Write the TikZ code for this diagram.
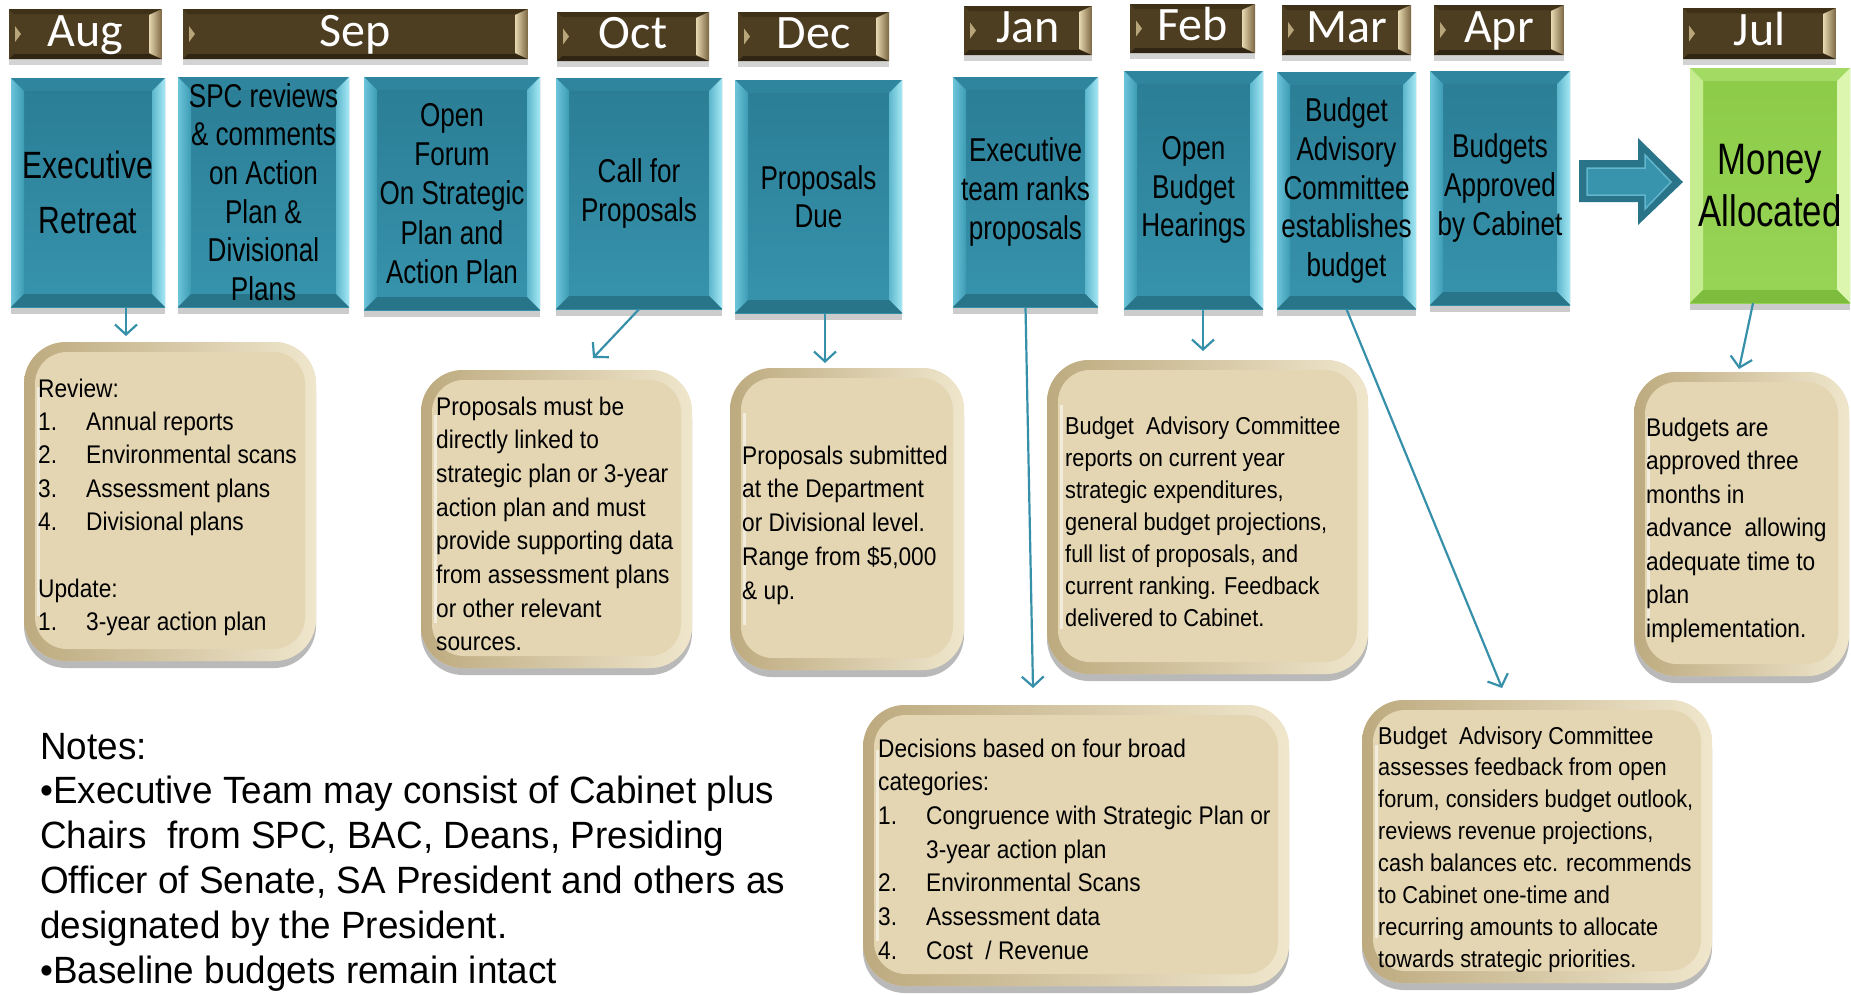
\documentclass[tikz,border=0pt]{standalone}
\usepackage{fontspec}
\setmainfont{Liberation Sans}
\newfontfamily\tealF[FakeStretch=0.79]{Liberation Sans}
\newfontfamily\beigeF[FakeStretch=0.89]{Liberation Sans}
\newfontfamily\notesF[FakeStretch=0.97]{Liberation Sans}
\newfontfamily\monthF{Carlito}
\usetikzlibrary{arrows.meta,shadows}

\definecolor{barface}{HTML}{4D3D21}
\definecolor{bardark}{HTML}{3E3118}
\definecolor{bardarkB}{HTML}{2F2512}
\definecolor{bartanL}{HTML}{E6D8B0}
\definecolor{bartanD}{HTML}{7A6542}
\definecolor{bartan}{HTML}{B9A57A}
\definecolor{tealTop}{HTML}{2A7D95}
\definecolor{tealBot}{HTML}{3793AC}
\definecolor{tbTop}{HTML}{2E859D}
\definecolor{tbLa}{HTML}{6CC4D9}
\definecolor{tbLb}{HTML}{3C9BB4}
\definecolor{tbRa}{HTML}{A6E8F5}
\definecolor{tbRb}{HTML}{5CB6CC}
\definecolor{tbBot}{HTML}{287589}
\definecolor{grTop}{HTML}{8CCB48}
\definecolor{grBot}{HTML}{98D456}
\definecolor{gbTop}{HTML}{A2DA63}
\definecolor{gbL}{HTML}{C6EC90}
\definecolor{gbR}{HTML}{DCF6B0}
\definecolor{gbBot}{HTML}{7EBC3E}
\definecolor{bgRimL}{HTML}{BDAA7F}
\definecolor{bgRimR}{HTML}{EFE6CC}
\definecolor{bgFace}{HTML}{E4D6B3}
\definecolor{connC}{HTML}{3790A9}
\definecolor{arrOut}{HTML}{2A7489}
\definecolor{arrIn}{HTML}{3893AC}
\definecolor{arrLine}{HTML}{62B6CB}

\newcommand\Lt[2]{\vtop{\baselineskip=#1\lineskiplimit=-1000pt\lineskip=0pt\halign{##\hfil\cr#2\crcr}}}
\newcommand\Ct[2]{\vtop{\baselineskip=#1\lineskiplimit=-1000pt\lineskip=0pt\halign{\hfil##\hfil\cr#2\crcr}}}
\newcommand\numit[2]{\hbox to 48pt{#1\hfil}#2}

\newcommand\bevelpic[5]{%
 \path[#2] (path picture bounding box.north west) -- (path picture bounding box.north east) -- ([xshift=-#1,yshift=-#1]path picture bounding box.north east) -- ([xshift=#1,yshift=-#1]path picture bounding box.north west) -- cycle;
 \path[#3] (path picture bounding box.north west) -- ([xshift=#1,yshift=-#1]path picture bounding box.north west) -- ([xshift=#1,yshift=#1]path picture bounding box.south west) -- (path picture bounding box.south west) -- cycle;
 \path[#4] (path picture bounding box.north east) -- ([xshift=-#1,yshift=-#1]path picture bounding box.north east) -- ([xshift=-#1,yshift=#1]path picture bounding box.south east) -- (path picture bounding box.south east) -- cycle;
 \path[#5] (path picture bounding box.south west) -- ([xshift=#1,yshift=#1]path picture bounding box.south west) -- ([xshift=-#1,yshift=#1]path picture bounding box.south east) -- (path picture bounding box.south east) -- cycle;
}
\newcommand\barbevel{%
 \path[fill=bardark] (path picture bounding box.north west) -- (path picture bounding box.north east) -- ([xshift=-13pt,yshift=-5pt]path picture bounding box.north east) -- ([xshift=5pt,yshift=-5pt]path picture bounding box.north west) -- cycle;
 \path[fill=bardarkB] (path picture bounding box.south west) -- (path picture bounding box.south east) -- ([xshift=-13pt,yshift=5pt]path picture bounding box.south east) -- ([xshift=5pt,yshift=5pt]path picture bounding box.south west) -- cycle;
 \path[left color=bartanL, right color=bartanD] (path picture bounding box.north east) -- ([xshift=-13pt,yshift=-6pt]path picture bounding box.north east) -- ([xshift=-13pt,yshift=6pt]path picture bounding box.south east) -- (path picture bounding box.south east) -- cycle;
 \path[fill=bartan] ([xshift=6pt,yshift=8pt]path picture bounding box.west) -- ([xshift=12pt]path picture bounding box.west) -- ([xshift=6pt,yshift=-8pt]path picture bounding box.west) -- cycle;
}
\newcommand\beigepic{%
 \path[left color=bgRimL, right color=bgRimR, sharp corners] (path picture bounding box.south west) rectangle (path picture bounding box.north east);
 \path[fill=bgFace, rounded corners=32pt] ([xshift=11pt,yshift=-10pt]path picture bounding box.north west) rectangle ([xshift=-11pt,yshift=12pt]path picture bounding box.south east);
 \path[draw=white, draw opacity=0.55, line width=3pt] ([xshift=14pt,yshift=-45pt]path picture bounding box.north west) -- ([xshift=14pt,yshift=45pt]path picture bounding box.south west);
}

\begin{document}
\begin{tikzpicture}[x=1pt,y=-1pt,
  mbar/.style={rectangle, inner sep=0pt, minimum height=50pt, fill=barface, text=white,
    font=\monthF\fontsize{48}{48}\selectfont, text height=32pt, text depth=8pt,
    drop shadow={shadow xshift=0pt, shadow yshift=-6pt, opacity=0.35},
    path picture={\barbevel}},
  tealbox/.style={rectangle, inner sep=0pt, top color=tealTop, bottom color=tealBot,
    font=\tealF\fontsize{33}{38}\selectfont,
    drop shadow={shadow xshift=0pt, shadow yshift=-7pt, opacity=0.4},
    path picture={\bevelpic{13pt}{fill=tbTop}{left color=tbLa,right color=tbLb}{left color=tbRb,right color=tbRa}{fill=tbBot}}},
  greenbox/.style={rectangle, inner sep=0pt, top color=grTop, bottom color=grBot,
    font=\tealF\fontsize{44}{52}\selectfont,
    drop shadow={shadow xshift=0pt, shadow yshift=-7pt, opacity=0.4},
    path picture={\bevelpic{13pt}{fill=gbTop}{fill=gbL}{fill=gbR}{fill=gbBot}}},
  beige/.style={rectangle, rounded corners=42pt, inner sep=0pt, fill=bgFace,
    drop shadow={shadow xshift=0pt, shadow yshift=-7pt, opacity=0.55},
    path picture={\beigepic}},
  btext/.style={anchor=base west, inner sep=0pt, font=\beigeF\fontsize{25.5}{33}\selectfont},
  btexts/.style={anchor=base west, inner sep=0pt, font=\beigeF\fontsize{24.4}{32}\selectfont},
  conn/.style={draw=connC, line width=2.2pt, -{Straight Barb[length=10pt,width=22pt]}}
]
\useasboundingbox (0,0) rectangle (1851,994);

% month bars
\node[mbar, minimum width=153pt] (mAug) at (85.5,34) {Aug};
\node[mbar, minimum width=345pt] (mSep) at (355.5,34) {Sep};
\node[mbar, minimum width=152pt, minimum height=49pt] (mOct) at (633,36.5) {Oct};
\node[mbar, minimum width=151pt, minimum height=49pt] (mDec) at (813.5,36.5) {Dec};
\node[mbar, minimum width=128pt, minimum height=49pt] (mJan) at (1028,30.5) {Jan};
\node[mbar, minimum width=125pt, minimum height=49pt] (mFeb) at (1192.5,28.5) {Feb};
\node[mbar, minimum width=129pt] (mMar) at (1346.5,30) {Mar};
\node[mbar, minimum width=130pt] (mApr) at (1499,30) {Apr};
\node[mbar, minimum width=153pt, minimum height=51pt] (mJul) at (1759.5,33.5) {Jul};

% teal boxes
\node[tealbox, minimum width=154pt, minimum height=229pt, font=\tealF\fontsize{38}{44}\selectfont] (tAug) at (88,192.5) {\Ct{55pt}{Executive\cr Retreat}};
\node[tealbox, minimum width=171pt, minimum height=230pt] (tSPC) at (263.5,192) {\Ct{38.6pt}{SPC reviews\cr \& comments\cr on Action\cr Plan \&\cr Divisional\cr Plans}};
\node[tealbox, minimum width=176pt, minimum height=233pt] (tForum) at (452,193.5) {\raisebox{-8pt}{\Ct{39.2pt}{Open\cr Forum\cr On Strategic\cr Plan and\cr Action Plan}}};
\node[tealbox, minimum width=166pt, minimum height=231pt] (tOct) at (639,193.5) {\Ct{38.6pt}{Call for\cr Proposals}};
\node[tealbox, minimum width=167pt, minimum height=233pt] (tDec) at (818.5,196.5) {\Ct{38.6pt}{Proposals\cr Due}};
\node[tealbox, minimum width=145pt, minimum height=230pt] (tJan) at (1025.5,192) {\Ct{38.6pt}{Executive\cr team ranks\cr proposals}};
\node[tealbox, minimum width=139pt, minimum height=238pt] (tFeb) at (1193.5,190) {\Ct{38.6pt}{Open\cr Budget\cr Hearings}};
\node[tealbox, minimum width=139pt, minimum height=237pt] (tMar) at (1346.5,190.5) {\Ct{38.6pt}{Budget\cr Advisory\cr Committee\cr establishes\cr budget}};
\node[tealbox, minimum width=140pt, minimum height=234pt] (tApr) at (1500,188) {\Ct{38.6pt}{Budgets\cr Approved\cr by Cabinet}};
\node[greenbox, minimum width=160pt, minimum height=235pt] (green) at (1770,185.5) {\Ct{52pt}{Money\cr Allocated}};

% big block arrow
\fill[arrOut] (1579,160) -- (1638,160) -- (1638,138) -- (1683,182) -- (1638,225) -- (1638,202) -- (1579,202) -- cycle;
\filldraw[fill=arrIn, draw=arrLine, line width=1.5pt] (1587,168) -- (1645,168) -- (1645,155) -- (1671,182) -- (1645,209) -- (1645,195) -- (1587,195) -- cycle;

% beige boxes
\node[beige, minimum width=292pt, minimum height=319pt] (bReview) at (170,501.5) {};
\node[beige, minimum width=271pt, minimum height=298pt] (bProp) at (556.5,519) {};
\node[beige, minimum width=234pt, minimum height=302pt] (bSub) at (847,519) {};
\node[beige, minimum width=321pt, minimum height=314pt] (bBAC) at (1207.5,517) {};
\node[beige, minimum width=215pt, minimum height=304pt] (bBud) at (1741.5,524) {};
\node[beige, minimum width=426pt, minimum height=281pt] (bDec) at (1076,845.5) {};
\node[beige, minimum width=350pt, minimum height=283pt] (bAss) at (1537,841.5) {};

% beige texts
\node[btext] (xReview) at (38,397) {\Lt{33.4pt}{Review:\cr
\numit{1.}{Annual reports}\cr
\numit{2.}{Environmental scans}\cr
\numit{3.}{Assessment plans}\cr
\numit{4.}{Divisional plans}\cr
\cr
Update:\cr
\numit{1.}{3-year action plan}}};
\node[btext] (xProp) at (436,415) {\Lt{33.7pt}{Proposals must be\cr
directly linked to\cr
strategic plan or 3-year\cr
action plan and must\cr
provide supporting data\cr
from assessment plans\cr
or other relevant\cr
sources.}};
\node[btext] (xSub) at (742,464) {\Lt{33.75pt}{Proposals submitted\cr
at the Department\cr
or Divisional level.\cr
Range from \$5,000\cr
\& up.}};
\node[btexts] (xBAC) at (1065,434) {\Lt{32pt}{Budget\ \ Advisory Committee\cr
reports on current year\cr
strategic expenditures,\cr
general budget projections,\cr
full list of proposals, and\cr
current ranking. Feedback\cr
delivered to Cabinet.}};
\node[btext] (xBud) at (1646,436) {\Lt{33.5pt}{Budgets are\cr
approved three\cr
months in\cr
advance\ \ allowing\cr
adequate time to\cr
plan\cr
implementation.}};
\node[btext] (xDec) at (878,757) {\Lt{33.7pt}{Decisions based on four broad\cr
categories:\cr
\numit{1.}{Congruence with Strategic Plan or}\cr
\numit{}{3-year action plan}\cr
\numit{2.}{Environmental Scans}\cr
\numit{3.}{Assessment data}\cr
\numit{4.}{Cost\ \ / Revenue}}};
\node[btexts] (xAss) at (1378,744) {\Lt{31.9pt}{Budget\ \ Advisory Committee\cr
assesses feedback from open\cr
forum, considers budget outlook,\cr
reviews revenue projections,\cr
cash balances etc. recommends\cr
to Cabinet one-time and\cr
recurring amounts to allocate\cr
towards strategic priorities.}};

% notes
\node[anchor=base west, inner sep=0pt, font=\notesF\fontsize{38}{45}\selectfont] (notes) at (40,759) {\Lt{44.8pt}{Notes:\cr
•Executive Team may consist of Cabinet plus\cr
Chairs\ \ from SPC, BAC, Deans, Presiding\cr
Officer of Senate, SA President and others as\cr
designated by the President.\cr
•Baseline budgets remain intact}};

% connectors
\coordinate (eAug) at (126,336);
\coordinate (eOct) at (593,358);
\coordinate (eDec) at (825,363);
\coordinate (eJan) at (1033,688);
\coordinate (eFeb) at (1203,351);
\coordinate (eMar) at (1502,688);
\coordinate (sJul) at (1753,305);
\coordinate (eJul) at (1739,369);
\draw[conn] (tAug.south -| eAug) -- (eAug);
\draw[conn] (tOct.south) -- (eOct);
\draw[conn] (tDec.south -| eDec) -- (eDec);
\draw[conn] (tJan.south) -- (eJan);
\draw[conn] (tFeb.south -| eFeb) -- (eFeb);
\draw[conn] (tMar.south) -- (eMar);
\draw[conn] (green.south -| sJul) -- (eJul);
\end{tikzpicture}
\end{document}
